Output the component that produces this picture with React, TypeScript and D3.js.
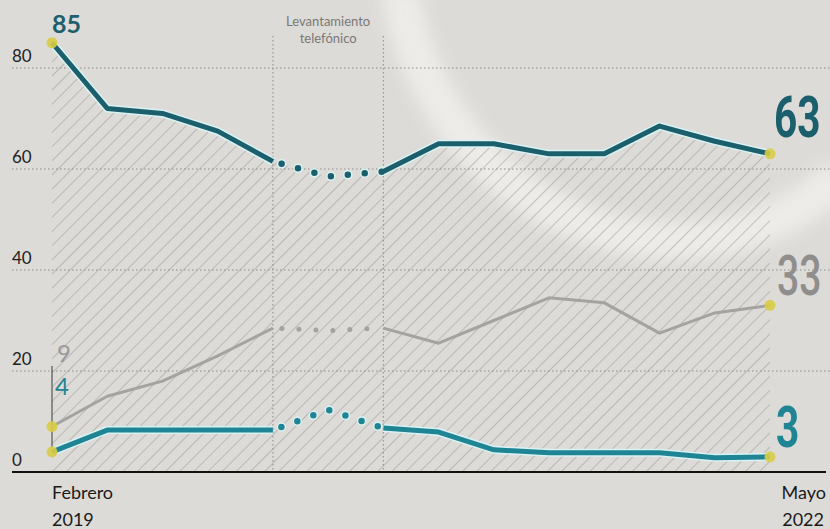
import React from "react";
import * as d3 from "d3";

const periods = d3.range(14);
const topSeries = [85, 72, 71, 67.5, 61.5, 58.5, 59.5, 65, 65, 63, 63, 68.5, 65.5, 63];
const graySeries = [9, 15, 18, 23, 28.5, 28, 28.5, 25.5, 30, 34.5, 33.5, 27.5, 31.5, 33];
const lowSeries = [4, 8.3, 8.3, 8.3, 8.3, 12.3, 8.7, 7.9, 4.4, 3.8, 3.8, 3.8, 2.8, 3];
const yTicks = [0, 20, 40, 60, 80];
const phoneStart = 4;
const phoneEnd = 6;
const startLabel = ["Febrero", "2019"];
const endLabel = ["Mayo", "2022"];
const surveyNote = ["Levantamiento", "telefónico"];

const W = 830;
const H = 529;
const x = d3.scaleLinear().domain([0, 13]).range([52, 770]);
const y = d3.scaleLinear().domain([0, 80]).range([472, 68]);

const TEAL_DARK = "#1c5f6c";
const TEAL = "#1f8494";
const GRAY = "#a4a3a1";
const YELLOW = "#d8cc45";

function segs(vals: number[]) {
  const mk = (a: number, b: number) =>
    d3.line<number>().x((_, i) => x(i + a)).y((d) => y(d))(vals.slice(a, b + 1)) || "";
  return {
    solidA: mk(0, phoneStart),
    dotted: mk(phoneStart, phoneEnd),
    solidB: mk(phoneEnd, 13),
  };
}

function Series({ vals, color, width, dot, halo }: { vals: number[]; color: string; width: number; dot: number; halo: string | null }) {
  const s = segs(vals);
  return (
    <g fill="none" strokeLinejoin="round">
      {halo && (
        <>
          <path d={s.solidA} stroke={halo} strokeWidth={width + 3} strokeLinecap="butt" />
          <path d={s.solidB} stroke={halo} strokeWidth={width + 3} strokeLinecap="butt" />
          <path d={s.dotted} stroke={halo} strokeWidth={dot + 3} strokeDasharray="0 17" strokeLinecap="round" strokeDashoffset={-9} />
        </>
      )}
      <path d={s.solidA} stroke={color} strokeWidth={width} strokeLinecap="butt" />
      <path d={s.solidB} stroke={color} strokeWidth={width} strokeLinecap="butt" />
      <path d={s.dotted} stroke={color} strokeWidth={dot} strokeDasharray="0 17" strokeLinecap="round" strokeDashoffset={-9} />
    </g>
  );
}

export default function App() {
  const area = d3
    .area<number>()
    .x((_, i) => x(i))
    .y0(y(0))
    .y1((d) => y(d))(topSeries) || "";
  const last = periods[periods.length - 1];
  return (
    <svg width={W} height={H} style={{ position: "absolute", left: 0, top: 0 }} fontFamily="Lato, 'Open Sans', sans-serif">
      <defs>
        <pattern id="hatch" patternUnits="userSpaceOnUse" width={10} height={10} patternTransform="rotate(45)">
          <line x1={0} y1={0} x2={0} y2={10} stroke="#979592" strokeWidth={1} />
        </pattern>
        <filter id="blur" x="-20%" y="-20%" width="140%" height="140%">
          <feGaussianBlur stdDeviation="8" />
        </filter>
      </defs>
      <rect width={W} height={H} fill="#dddbd8" />
      <path
        d="M 400 -10 C 420 120 520 230 660 240 C 740 245 800 215 840 175"
        fill="none"
        stroke="#f2f0ec"
        strokeWidth={38}
        opacity={0.8}
        filter="url(#blur)"
      />
      <path d={area} fill="url(#hatch)" />
      {yTicks.filter((t) => t > 0).map((t) => (
        <line key={t} x1={12} x2={830} y1={y(t)} y2={y(t)} stroke="#8f8d8a" strokeWidth={1.2} strokeDasharray="1.5 2.5" />
      ))}
      {yTicks.map((t) => (
        <text key={"l" + t} x={12} y={y(t) - 6} fontSize={17} fill="#222">{t}</text>
      ))}
      {[phoneStart, phoneEnd].map((i) => (
        <line key={"v" + i} x1={x(i)} x2={x(i)} y1={36} y2={y(0)} stroke="#9a9895" strokeWidth={1.2} strokeDasharray="1.5 2.5" />
      ))}
      <text x={(x(phoneStart) + x(phoneEnd)) / 2} y={26} fontSize={13} fill="#7a7875" textAnchor="middle">{surveyNote[0]}</text>
      <text x={(x(phoneStart) + x(phoneEnd)) / 2} y={43} fontSize={13} fill="#7a7875" textAnchor="middle">{surveyNote[1]}</text>
      <line x1={x(0)} x2={x(0)} y1={y(21)} y2={y(lowSeries[0])} stroke="#555" strokeWidth={1.2} />
      <line x1={12} x2={826} y1={y(0)} y2={y(0)} stroke="#111" strokeWidth={2.2} />
      <Series vals={graySeries} color={GRAY} width={3} dot={5} halo={null} />
      <Series vals={lowSeries} color={TEAL} width={5} dot={6.5} halo="#d9f3f4" />
      <Series vals={topSeries} color={TEAL_DARK} width={5} dot={6.5} halo="#d9f3f4" />
      {[topSeries, graySeries, lowSeries].flatMap((s, k) => [
        <circle key={"a" + k} cx={x(0)} cy={y(s[0])} r={5.5} fill={YELLOW} opacity={0.9} />,
        <circle key={"b" + k} cx={x(last)} cy={y(s[last])} r={5.5} fill={YELLOW} opacity={0.9} />,
      ])}
      <text x={52} y={33} fontSize={25} fontWeight={700} fill={TEAL_DARK}>{topSeries[0]}</text>
      <text x={57} y={362} fontSize={24} fill="#9a9896">{graySeries[0]}</text>
      <text x={55} y={395} fontSize={24} fill={TEAL}>{lowSeries[0]}</text>
      <text transform={`translate(774,137) scale(0.7,1)`} fontSize={58} fontWeight={700} fontFamily="Roboto, sans-serif" fill={TEAL_DARK}>{topSeries[last]}</text>
      <text transform={`translate(777,295) scale(0.7,1)`} fontSize={56} fontWeight={500} fontFamily="Roboto, sans-serif" fill="#8f8e8c">{graySeries[last]}</text>
      <text transform={`translate(776,447) scale(0.7,1)`} fontSize={58} fontWeight={700} fontFamily="Roboto, sans-serif" fill={TEAL}>{lowSeries[last]}</text>
      <text x={x(0)} y={499} fontSize={18} fill="#1a1a1a">{startLabel[0]}</text>
      <text x={x(0)} y={526} fontSize={18} fill="#1a1a1a">{startLabel[1]}</text>
      <text x={826} y={499} fontSize={18} fill="#1a1a1a" textAnchor="end">{endLabel[0]}</text>
      <text x={824} y={526} fontSize={18} fill="#1a1a1a" textAnchor="end">{endLabel[1]}</text>
    </svg>
  );
}
